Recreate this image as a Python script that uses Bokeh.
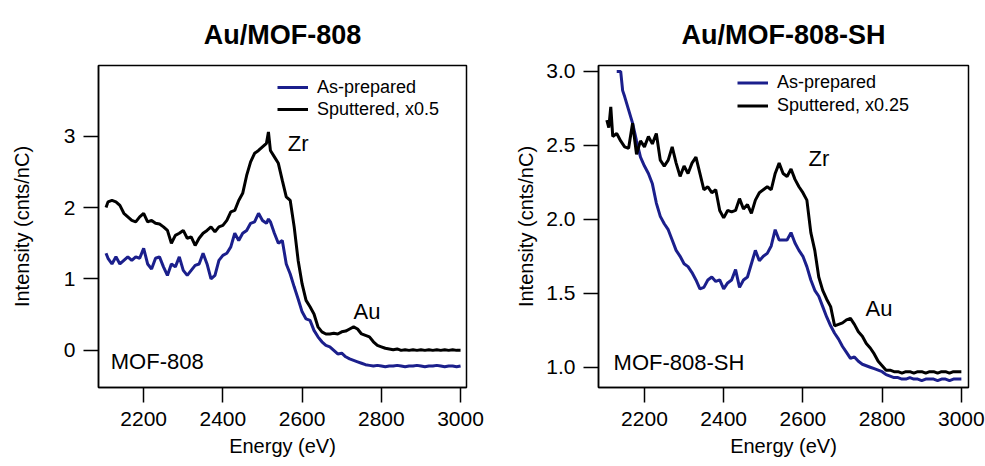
from bokeh.plotting import figure
from bokeh.layouts import row
from bokeh.models import FixedTicker, Legend, LegendItem, Label, Range1d, PrintfTickFormatter
from bokeh.embed import file_html
from bokeh.resources import INLINE

# ---------------- data ----------------
energy_l = [2105, 2110, 2120, 2130, 2140, 2150, 2160, 2170, 2180, 2190, 2200, 2210, 2220, 2230, 2240,
            2250, 2260, 2270, 2280, 2290, 2300, 2310, 2320, 2330, 2340, 2350, 2360, 2370, 2380, 2390,
            2400, 2410, 2420, 2430, 2440, 2450, 2460, 2470, 2480, 2490, 2500, 2510, 2515, 2520, 2530,
            2540, 2550, 2560, 2570, 2580, 2590, 2600, 2610, 2620, 2630, 2640, 2650, 2660, 2670, 2680,
            2690, 2700, 2710, 2720, 2730, 2740, 2750, 2760, 2770, 2780, 2790, 2800, 2810, 2820, 2830,
            2840, 2850, 2860, 2870, 2880, 2890, 2900, 2910, 2920, 2930, 2940, 2950, 2960, 2970, 2980,
            2990, 3000]
sput_l = [2.00, 2.08, 2.10, 2.08, 2.03, 1.92, 1.87, 1.82, 1.80, 1.87, 1.92, 1.80, 1.82, 1.78, 1.77,
          1.73, 1.68, 1.50, 1.61, 1.64, 1.68, 1.57, 1.59, 1.47, 1.57, 1.64, 1.68, 1.73, 1.66, 1.73,
          1.75, 1.82, 1.94, 1.96, 2.10, 2.20, 2.45, 2.64, 2.76, 2.80, 2.85, 2.90, 3.06, 2.80, 2.71,
          2.62, 2.38, 2.15, 2.10, 1.73, 1.26, 0.93, 0.70, 0.61, 0.51, 0.33, 0.26, 0.23, 0.23, 0.24,
          0.23, 0.26, 0.27, 0.30, 0.33, 0.30, 0.23, 0.21, 0.19, 0.12, 0.07, 0.05, 0.03, 0.02, 0.01,
          0.02, 0.00, 0.01, 0.00, 0.01, 0.00, 0.01, 0.00, 0.01, 0.00, 0.01, 0.00, 0.01, 0.00, 0.01,
          0.00, 0.00]
asprep_l = [1.36, 1.29, 1.21, 1.31, 1.21, 1.26, 1.31, 1.26, 1.31, 1.29, 1.43, 1.21, 1.14, 1.29, 1.31,
            1.17, 1.05, 1.21, 1.17, 1.31, 1.12, 1.05, 1.12, 1.19, 1.21, 1.36, 1.21, 1.00, 1.05, 1.26,
            1.33, 1.36, 1.45, 1.64, 1.54, 1.64, 1.68, 1.78, 1.80, 1.92, 1.82, 1.78, 1.84, 1.80, 1.64,
            1.50, 1.54, 1.21, 1.07, 0.89, 0.72, 0.54, 0.44, 0.42, 0.28, 0.19, 0.12, 0.07, 0.05, 0.00,
            -0.05, -0.04, -0.09, -0.12, -0.14, -0.16, -0.18, -0.20, -0.21, -0.22, -0.21, -0.22, -0.23, -0.22, -0.22,
            -0.21, -0.22, -0.23, -0.22, -0.22, -0.21, -0.22, -0.23, -0.22, -0.22, -0.21, -0.22, -0.23, -0.22, -0.22,
            -0.23, -0.22]

energy_r_sp = [2105, 2110, 2115, 2120, 2130, 2140, 2145, 2150, 2160, 2170, 2180, 2190, 2200, 2210, 2220,
               2230, 2240, 2250, 2260, 2270, 2280, 2290, 2300, 2310, 2320, 2330, 2340, 2350, 2360, 2370,
               2380, 2390, 2400, 2410, 2420, 2430, 2440, 2450, 2460, 2470, 2480, 2490, 2500, 2510, 2520,
               2530, 2540, 2550, 2560, 2570, 2580, 2590, 2600, 2610, 2620, 2630, 2640, 2650, 2660, 2670,
               2680, 2690, 2700, 2710, 2720, 2730, 2740, 2750, 2760, 2770, 2780, 2790, 2800, 2810, 2820,
               2830, 2840, 2850, 2860, 2870, 2880, 2890, 2900, 2910, 2920, 2930, 2940, 2950, 2960, 2970,
               2980, 2990, 3000]
sput_r = [2.67, 2.62, 2.76, 2.56, 2.58, 2.53, 2.51, 2.49, 2.48, 2.65, 2.44, 2.53, 2.49, 2.56, 2.51,
          2.58, 2.40, 2.36, 2.40, 2.49, 2.38, 2.29, 2.36, 2.31, 2.38, 2.42, 2.31, 2.20, 2.22, 2.18,
          2.20, 2.06, 2.01, 2.06, 2.05, 2.06, 2.14, 2.07, 2.10, 2.04, 2.13, 2.18, 2.20, 2.22, 2.20,
          2.31, 2.38, 2.31, 2.29, 2.34, 2.27, 2.22, 2.18, 2.13, 1.91, 1.79, 1.61, 1.52, 1.46, 1.41,
          1.28, 1.29, 1.30, 1.32, 1.33, 1.29, 1.24, 1.21, 1.16, 1.13, 1.09, 1.04, 1.01, 0.98, 0.98,
          0.97, 0.97, 0.96, 0.97, 0.97, 0.96, 0.97, 0.97, 0.96, 0.97, 0.97, 0.96, 0.97, 0.97, 0.96,
          0.97, 0.97, 0.97]

energy_r_as = [2130, 2140, 2145, 2150, 2160, 2170, 2180, 2190, 2200, 2210, 2220,
               2230, 2240, 2250, 2260, 2270, 2280, 2290, 2300, 2310, 2320, 2330, 2340, 2350, 2360, 2370,
               2380, 2390, 2400, 2410, 2420, 2430, 2440, 2450, 2460, 2470, 2480, 2490, 2500, 2510, 2520,
               2530, 2540, 2550, 2560, 2570, 2580, 2590, 2600, 2610, 2620, 2630, 2640, 2650, 2660, 2670,
               2680, 2690, 2700, 2710, 2720, 2730, 2740, 2750, 2760, 2770, 2780, 2790, 2800, 2810, 2820,
               2830, 2840, 2850, 2860, 2870, 2880, 2890, 2900, 2910, 2920, 2930, 2940, 2950, 2960, 2970,
               2980, 2990, 3000]
asprep_r = [3.00, 3.00, 2.87, 2.83, 2.74, 2.65, 2.53, 2.42, 2.36, 2.31, 2.24,
            2.11, 2.02, 1.97, 1.93, 1.86, 1.79, 1.75, 1.70, 1.68, 1.64, 1.59, 1.53, 1.54, 1.59, 1.61,
            1.58, 1.59, 1.53, 1.57, 1.59, 1.66, 1.54, 1.59, 1.61, 1.70, 1.79, 1.72, 1.75, 1.77, 1.82,
            1.93, 1.86, 1.86, 1.86, 1.91, 1.84, 1.79, 1.75, 1.68, 1.59, 1.52, 1.48, 1.41, 1.34, 1.28,
            1.23, 1.19, 1.14, 1.10, 1.06, 1.07, 1.04, 1.02, 1.01, 1.00, 0.99, 0.98, 0.97, 0.95, 0.94,
            0.93, 0.93, 0.92, 0.92, 0.93, 0.92, 0.92, 0.91, 0.92, 0.92, 0.92, 0.91, 0.92, 0.92, 0.91,
            0.92, 0.92, 0.92]

x_ticks = [2200, 2400, 2600, 2800, 3000]
y_ticks_l = [0, 1, 2, 3]
y_ticks_r = [1.0, 1.5, 2.0, 2.5, 3.0]

BLUE = "#1b1f8c"
FONT = "Liberation Sans"


def make_panel(title, xr, yr, yticks, w, h, bl, br, legend_x, legend_y, sput_label,
               e_as, asprep, e_sp, sput, ylab_standoff, yfmt, label_h):
    p = figure(width=w, height=h, x_range=Range1d(*xr), y_range=Range1d(*yr),
               output_backend="svg", toolbar_location=None,
               min_border_left=bl, min_border_right=br, min_border_top=65, min_border_bottom=79)
    p.title.text = title
    p.title.align = "center"
    p.title.vertical_align = "middle"
    p.title.text_font = FONT
    p.title.text_font_size = "27px"
    p.title.text_font_style = "bold"
    p.title.text_color = "black"
    p.title.standoff = 30
    p.grid.visible = False
    p.outline_line_color = "black"
    p.outline_line_width = 1.5
    p.background_fill_color = "white"
    p.border_fill_color = "white"

    for ax in (p.xaxis, p.yaxis):
        ax.major_tick_in = 0
        ax.major_tick_out = 15
        ax.minor_tick_out = 0
        ax.minor_tick_in = 0
        ax.axis_line_color = "black"
        ax.axis_line_width = 1.5
        ax.major_tick_line_width = 1.5
        ax.major_label_text_font = FONT
        ax.major_label_text_font_size = "21px"
        ax.major_label_text_color = "black"
        ax.axis_label_text_font = FONT
        ax.axis_label_text_font_size = "20px"
        ax.axis_label_text_font_style = "normal"
        ax.axis_label_text_color = "black"
    p.xaxis.ticker = FixedTicker(ticks=x_ticks)
    p.yaxis.ticker = FixedTicker(ticks=yticks)
    if yfmt:
        p.yaxis.formatter = PrintfTickFormatter(format=yfmt)
    p.xaxis.axis_label = "Energy (eV)"
    p.yaxis.axis_label = "Intensity (cnts/nC)"
    p.xaxis.major_label_standoff = 9
    p.xaxis.axis_label_standoff = 6
    p.yaxis.major_label_standoff = 8
    p.yaxis.axis_label_standoff = ylab_standoff

    r_as = p.line(e_as, asprep, line_color=BLUE, line_width=3)
    r_sp = p.line(e_sp, sput, line_color="black", line_width=3)

    leg = Legend(items=[LegendItem(label="As-prepared", renderers=[r_as]),
                        LegendItem(label=sput_label, renderers=[r_sp])],
                 location=(legend_x, legend_y), orientation="vertical",
                 background_fill_alpha=0, border_line_alpha=0,
                 padding=0, margin=0, spacing=0,
                 glyph_width=31, glyph_height=label_h, label_height=label_h,
                 label_standoff=9,
                 label_text_font=FONT, label_text_font_size="18px",
                 label_text_color="black")
    p.add_layout(leg)
    return p


p1 = make_panel("Au/MOF-808", (2086, 3015), (-0.52, 3.99), y_ticks_l, 490, 466, 98, 24,
                179, 267, "Sputtered, x0.5", energy_l, asprep_l, energy_l, sput_l, 28, None, 22)
p2 = make_panel("Au/MOF-808-SH", (2084, 3018), (0.863, 3.04), y_ticks_r, 495, 466, 108, 17,
                139, 270, "Sputtered, x0.25", energy_r_as, asprep_r, energy_r_sp, sput_r, 6, "%.1f", 23)


def add_text(p, x, y, t, size):
    p.add_layout(Label(x=x, y=y, text=t, text_font=FONT, text_font_size=size,
                       text_baseline="middle", text_align="left", text_color="black"))


add_text(p1, 2564, 2.9, "Zr", "22px")
add_text(p1, 2730, 0.55, "Au", "22px")
add_text(p1, 2117, -0.15, "MOF-808", "22px")
add_text(p2, 2614, 2.41, "Zr", "22px")
add_text(p2, 2758, 1.40, "Au", "22px")
add_text(p2, 2122, 1.03, "MOF-808-SH", "22px")

layout = row(p1, p2)
open("out.html", "w").write(file_html(layout, INLINE))
